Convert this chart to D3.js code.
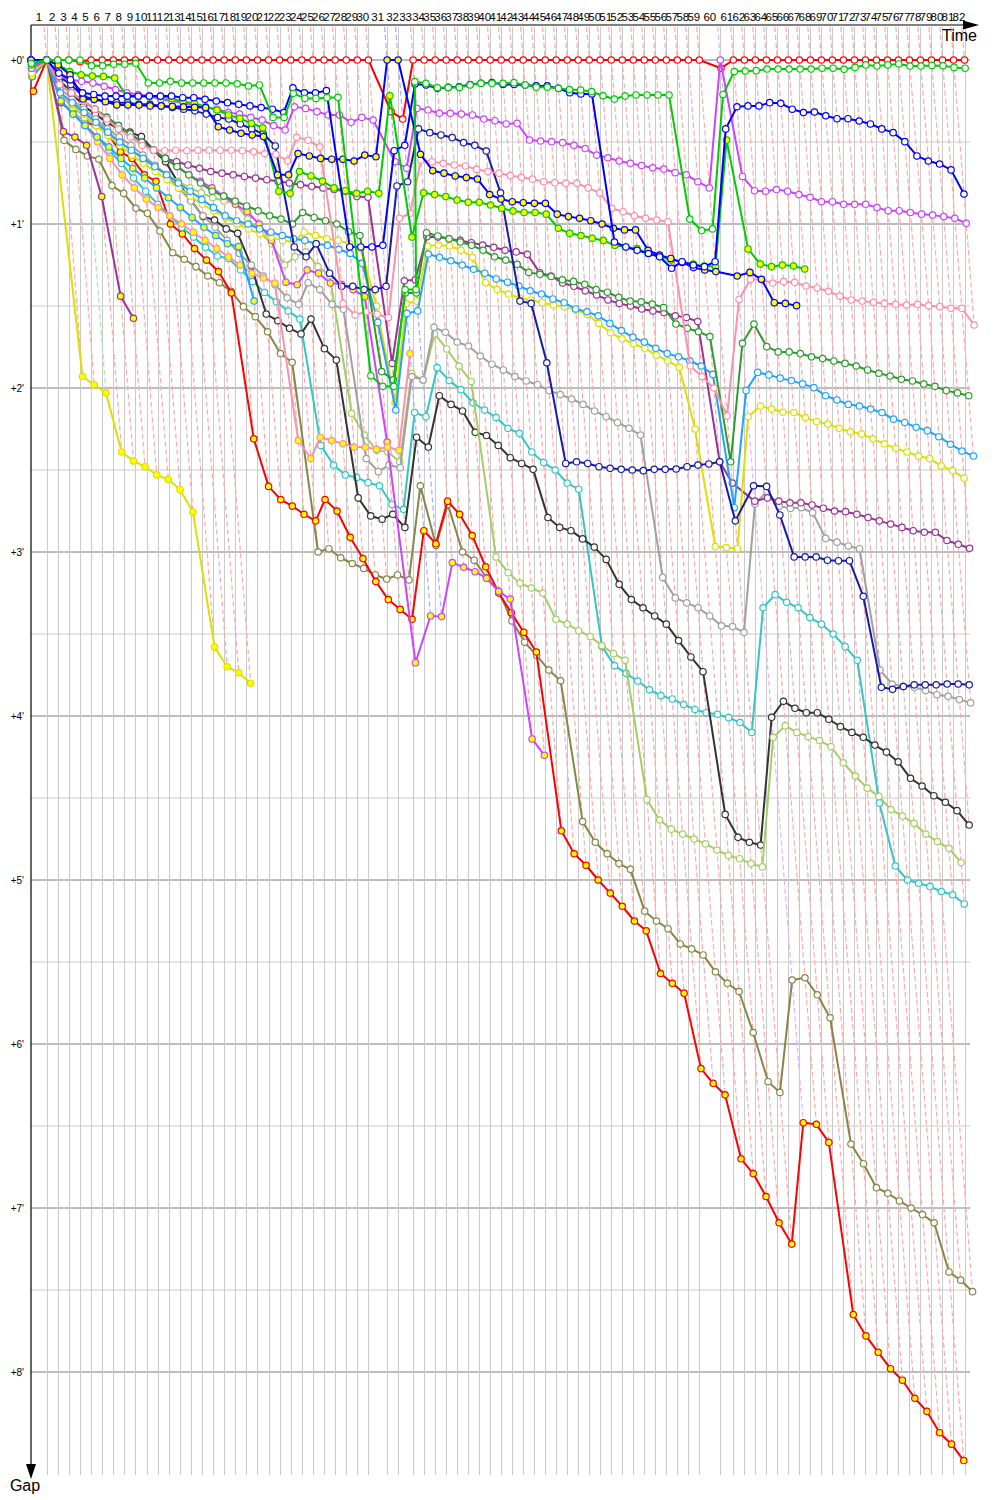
<!DOCTYPE html>
<html>
<head>
<meta charset="utf-8">
<script src="https://cdn.jsdelivr.net/npm/d3@7"></script>
<style>
  body { margin: 0; background: #fff; }
  svg { display: block; font-family: "Liberation Sans", Arial, sans-serif; }
</style>
</head>
<body>
<svg id="chart" width="1000" height="1500"></svg>
<script>
// leader lap durations in seconds, lap 1 .. 82
const leaderLapSecs = [
  73.6,
  52, 52, 52, 52, 52, 52, 52, 52, 52, 52, 52, 52, 52, 52, 52, 52, 52, 52, 52, 52,
  52, 52, 52, 52, 52, 52, 52, 52, 52,
  87.7, 51.6, 70.3,
  51.6, 51.6, 51.6, 51.6, 51.6, 51.6, 51.6, 51.6, 51.6, 51.6, 51.6, 51.6, 51.6,
  51.6, 51.6, 51.6, 51.6, 51.6, 51.6, 51.6, 51.6, 51.6, 51.6, 51.6, 51.6, 51.6,
  98.4, 61.0,
  51.6, 51.6, 51.6, 51.6, 51.6, 51.6, 51.6, 51.6, 51.6, 51.6, 51.6, 51.6, 51.6,
  51.6, 51.6, 51.6, 51.6, 51.6, 51.6, 51.6, 51.6
];

// gap to the leader in minutes, index = lap (0 = grid)
const redA = [
  0, 0, 0, 0, 0.01, 0, 0, 0, 0, 0,
  0, 0, 0, 0, 0, 0, 0, 0, 0, 0,
  0, 0, 0, 0, 0, 0, 0, 0, 0, 0,
  0, 0.315, 0.36, 0, 0, 0, 0, 0, 0, 0,
  0, 0, 0, 0, 0, 0, 0, 0, 0, 0,
  0, 0, 0, 0, 0, 0, 0, 0, 0, 0,
  0.05, 0, 0, 0, 0, 0, 0, 0, 0, 0,
  0, 0, 0, 0, 0, 0, 0, 0, 0, 0,
  0, 0, 0
];
const redB = [
  0.19, 0, 0.26, 0.32, 0.38, 0.40, 0.45, 0.56, 0.60, 0.70,
  0.74, 1.00, 1.06, 1.15, 1.22, 1.29, 1.42, 2.31, 2.60, 2.68,
  2.72, 2.77, 2.81, 2.68, 2.75, 2.91, 3.04, 3.18, 3.29, 3.35,
  3.41, 2.87, 2.95, 2.69, 2.77, 2.90, 3.09, 3.25, 3.37, 3.49,
  3.61, 4.70, 4.84, 4.91, 5.00, 5.08, 5.16, 5.25, 5.31, 5.57,
  5.63, 5.69, 6.15, 6.24, 6.31, 6.70, 6.79, 6.93, 7.09, 7.22,
  6.48, 6.49, 6.60, 7.65, 7.78, 7.88, 7.98, 8.05, 8.16, 8.24,
  8.37, 8.44, 8.54
];
const greenA = [
  0.02, 0, 0, 0, 0, 0.035, 0.035, 0.026, 0.026, 0.02,
  0.14, 0.14, 0.13, 0.14, 0.14, 0.14, 0.14, 0.14, 0.145, 0.159,
  0.152, 0.35, 0.35, 0.203, 0.234, 0.234, 0.23, 0.227, 1.925, 1.99,
  1.99, 1.40, 1.40, 0.132, 0.142, 0.169, 0.167, 0.167, 0.152, 0.142,
  0.142, 0.142, 0.138, 0.152, 0.166, 0.166, 0.173, 0.18, 0.183, 0.193,
  0.218, 0.238, 0.22, 0.213, 0.213, 0.213, 0.213, 0.97, 1.04, 1.03,
  0.21, 0.07, 0.067, 0.065, 0.055, 0.055, 0.055, 0.055, 0.055, 0.05,
  0.05, 0.057, 0.045, 0.03, 0.037, 0.03, 0.024, 0.037, 0.037, 0.033,
  0.035, 0.045, 0.05
];
const greenB = [
  0.03, 0, 0.03, 0.07, 0.09, 0.098, 0.10, 0.11, 0.224, 0.224,
  0.224, 0.224, 0.235, 0.254, 0.264, 0.285, 0.305, 0.335, 0.356, 0.386,
  0.413, 0.80, 0.813, 0.68, 0.707, 0.738, 0.78, 0.797, 0.813, 0.80,
  0.813, 0.218, 1.08, 0.81, 0.82, 0.833, 0.854, 0.868, 0.868, 0.884,
  0.904, 0.92, 0.93, 0.93, 0.94, 1.026, 1.057, 1.07, 1.087, 1.10,
  1.13, 1.14, 1.15, 1.18, 1.20, 1.22, 1.23, 1.244, 1.256, 1.26,
  0.488, 1.152, 1.244, 1.26, 1.25, 1.256, 1.274
];
const blueA = [
  0, 0, 0.08, 0.12, 0.2, 0.21, 0.22, 0.22, 0.22, 0.22,
  0.22, 0.22, 0.22, 0.23, 0.23, 0.24, 0.25, 0.26, 0.27, 0.28,
  0.29, 0.3, 0.32, 0.17, 0.2, 0.2, 0.187, 1.14, 1.14, 1.14,
  1.13, 0.553, 0.52, 0.146, 0.152, 0.173, 0.167, 0.163, 0.149, 0.142,
  0.138, 0.149, 0.149, 0.152, 0.158, 0.158, 0.173, 0.2, 0.207, 0.207,
  1.11, 1.14, 1.16, 1.18, 1.20, 1.27, 1.23, 1.25, 1.26, 1.23,
  0.42, 0.285, 0.28, 0.28, 0.26, 0.264, 0.30, 0.32, 0.317, 0.34,
  0.358, 0.358, 0.372, 0.39, 0.42, 0.443, 0.498, 0.585, 0.616, 0.634,
  0.67, 0.817
];
const blueB = [
  0, 0, 0.03, 0.09, 0.238, 0.24, 0.254, 0.274, 0.275, 0.275,
  0.28, 0.28, 0.283, 0.285, 0.288, 0.29, 0.407, 0.427, 0.447, 0.457,
  0.467, 0.70, 0.70, 0.57, 0.585, 0.60, 0.605, 0.605, 0.616, 0.58,
  0.59, 0, 0, 0.575, 0.675, 0.69, 0.707, 0.717, 0.726, 0.82,
  0.848, 0.864, 0.87, 0.874, 0.874, 0.94, 0.955, 0.965, 0.98, 1.0,
  1.026, 1.036, 1.036, 1.16, 1.19, 1.21, 1.234, 1.266, 1.28, 1.29,
  1.317, 1.295, 1.337, 1.48, 1.484, 1.498
];
const navyA = [
  0, 0, 0.1, 0.15, 0.22, 0.24, 0.25, 0.26, 0.26, 0.27,
  0.27, 0.28, 0.29, 0.30, 0.31, 0.33, 0.35, 0.36, 0.39, 0.42,
  0.45, 0.524, 1.14, 1.20, 1.12, 1.30, 1.38, 1.38, 1.40, 1.40,
  1.38, 0.768, 0.742, 0.42, 0.443, 0.457, 0.473, 0.504, 0.52, 0.555,
  0.81, 1.47, 1.484, 1.846, 2.46, 2.45, 2.46, 2.48, 2.49, 2.496,
  2.50, 2.504, 2.496, 2.496, 2.494, 2.48, 2.47, 2.463, 2.45, 2.81,
  2.596, 2.60, 2.774, 3.03, 3.03, 3.03, 3.05, 3.053, 3.053, 3.27,
  3.825, 3.837, 3.82, 3.81, 3.81, 3.81, 3.805, 3.805, 3.81
];
const violetA = [
  0.05, 0, 0.1, 0.12, 0.13, 0.14, 0.16, 0.18, 0.2, 0.21,
  0.22, 0.24, 0.25, 0.26, 0.28, 0.29, 0.3, 0.32, 0.33, 0.35,
  0.366, 0.40, 0.427, 0.285, 0.295, 0.315, 0.335, 0.335, 0.38, 0.35,
  0.366, 0.62, 0.66, 0.295, 0.305, 0.325, 0.325, 0.33, 0.335, 0.36,
  0.37, 0.39, 0.386, 0.488, 0.494, 0.498, 0.504, 0.52, 0.54, 0.58,
  0.596, 0.616, 0.63, 0.644, 0.657, 0.665, 0.687, 0.70, 0.742, 0.78,
  0, 0.71, 0.797, 0.80, 0.79, 0.80, 0.82, 0.837, 0.864, 0.864,
  0.88, 0.88, 0.88, 0.90, 0.919, 0.919, 0.93, 0.94, 0.945, 0.955,
  0.965, 0.996
];
const violetB = [
  0.05, 0, 0.15, 0.2, 0.25, 0.3, 0.35, 0.4, 0.45, 0.5,
  0.55, 0.6, 0.65, 0.7, 0.74, 0.78, 0.83, 0.88, 0.925, 1.0,
  1.1, 1.355, 1.37, 1.28, 1.30, 1.36, 1.368, 1.40, 1.443, 2.33,
  3.675, 3.39, 3.394, 3.065, 3.093, 3.12, 3.16, 3.24, 3.287, 4.14,
  4.24
];
const pinkA = [
  0.05, 0, 0.15, 0.2, 0.25, 0.3, 0.36, 0.42, 0.47, 0.52,
  0.55, 0.553, 0.55, 0.553, 0.55, 0.55, 0.55, 0.55, 0.553, 0.56,
  0.57, 0.575, 0.615, 0.471, 0.49, 0.53, 1.484, 1.555, 1.535, 1.55,
  1.57, 0.965, 0.935, 0.61, 0.62, 0.63, 0.64, 0.646, 0.667, 0.68,
  0.69, 0.705, 0.715, 0.726, 0.742, 0.748, 0.752, 0.752, 0.78, 0.81,
  0.904, 0.925, 0.95, 0.965, 0.976, 0.986, 1.866, 1.93, 2.0, 2.17,
  1.46, 1.337, 1.34, 1.36, 1.35, 1.356, 1.378, 1.39, 1.41, 1.44,
  1.463, 1.47, 1.477, 1.484, 1.49, 1.494, 1.49, 1.498, 1.504, 1.514,
  1.514, 1.616
];
const pinkB = [
  0.1, 0, 0.2, 0.3, 0.4, 0.5, 0.6, 0.7, 0.78, 0.848,
  0.9, 0.95, 1.0, 1.05, 1.1, 1.15, 1.2, 1.25, 1.30, 1.33,
  1.36, 2.32, 2.43, 2.30, 2.32, 2.34, 2.36, 2.36, 2.374, 2.36,
  2.38, 1.79
];
const dkgreenA = [
  0.05, 0, 0.15, 0.2, 0.25, 0.3, 0.35, 0.4, 0.45, 0.5,
  0.55, 0.6, 0.65, 0.7, 0.75, 0.8, 0.83, 0.86, 0.89, 0.92,
  0.95, 0.97, 1.0, 0.93, 0.96, 0.98, 1.0, 1.047, 1.07, 1.9,
  1.95, 1.42, 1.42, 1.053, 1.073, 1.09, 1.11, 1.13, 1.16, 1.2,
  1.22, 1.246, 1.295, 1.307, 1.32, 1.34, 1.35, 1.368, 1.40, 1.416,
  1.447, 1.47, 1.474, 1.488, 1.51, 1.61, 1.636, 1.657, 1.687, 2.45,
  1.727, 1.61, 1.748, 1.78, 1.78, 1.79, 1.81, 1.82, 1.835, 1.85,
  1.866, 1.89, 1.91, 1.927, 1.947, 1.957, 1.976, 1.99, 2.016, 2.03,
  2.047
];
const purpleA = [
  0.05, 0, 0.15, 0.2, 0.25, 0.3, 0.35, 0.4, 0.45, 0.5,
  0.55, 0.6, 0.62, 0.64, 0.66, 0.68, 0.69, 0.7, 0.71, 0.72,
  0.73, 0.74, 0.75, 0.76, 0.77, 0.78, 0.79, 0.8, 0.833, 0.837,
  1.85, 1.346, 1.34, 1.077, 1.08, 1.09, 1.10, 1.114, 1.128, 1.142,
  1.16, 1.17, 1.185, 1.297, 1.317, 1.36, 1.38, 1.407, 1.433, 1.463,
  1.484, 1.50, 1.518, 1.53, 1.54, 1.56, 1.57, 1.595, 2.45, 2.58,
  2.69, 2.67, 2.69, 2.70, 2.70, 2.713, 2.733, 2.75, 2.754, 2.77,
  2.79, 2.81, 2.83, 2.85, 2.87, 2.88, 2.88, 2.93, 2.953, 2.977
];
const purpleB = [0.05, 0, 0.437, 0.47, 0.52, 0.833, 1.44, 1.575];
const lightblueA = [
  0.05, 0, 0.2, 0.26, 0.32, 0.38, 0.44, 0.5, 0.55, 0.6,
  0.65, 0.7, 0.75, 0.8, 0.85, 0.9, 0.95, 0.98, 1.0, 1.03,
  1.05, 1.07, 1.09, 1.1, 1.12, 1.13, 1.154, 1.18, 1.24, 1.6,
  2.134, 1.545, 1.53, 1.183, 1.203, 1.224, 1.25, 1.276, 1.30, 1.335,
  1.355, 1.378, 1.407, 1.427, 1.457, 1.48, 1.518, 1.535, 1.56, 1.606,
  1.65, 1.69, 1.72, 1.758, 1.79, 1.81, 1.834, 1.866, 1.917, 2.73,
  2.016, 1.905, 1.92, 1.94, 1.955, 1.975, 1.998, 2.047, 2.073, 2.10,
  2.11, 2.128, 2.15, 2.19, 2.21, 2.24, 2.26, 2.297, 2.343, 2.384,
  2.415
];
const lightblueB = [
  0.1, 0, 0.25, 0.33, 0.4, 0.47, 0.53, 0.6, 0.66, 0.72,
  0.78, 0.84, 0.9, 0.96, 1.02, 1.07, 1.12, 1.138, 1.47
];
const yellowA = [
  0.08, 0, 0.2, 0.27, 0.33, 0.4, 0.46, 0.52, 0.58, 0.63,
  0.68, 0.73, 0.78, 0.83, 0.88, 0.92, 0.96, 1.0, 1.03, 1.06,
  1.08, 1.1, 1.11, 1.05, 1.07, 1.09, 1.1, 1.12, 1.15, 1.5,
  2.09, 1.484, 1.47, 1.134, 1.128, 1.134, 1.16, 1.203, 1.358, 1.40,
  1.427, 1.453, 1.463, 1.48, 1.494, 1.504, 1.524, 1.55, 1.606, 1.663,
  1.70, 1.73, 1.758, 1.80, 1.834, 1.874, 2.25, 2.967, 2.973, 2.98,
  2.175, 2.11, 2.128, 2.148, 2.15, 2.18, 2.205, 2.22, 2.246, 2.267,
  2.28, 2.31, 2.34, 2.368, 2.39, 2.415, 2.43, 2.475, 2.504, 2.55
];
const yellowB = [0.1, 0, 1.93, 1.98, 2.03, 2.39, 2.445, 2.48, 2.53, 2.557, 2.62, 2.756, 3.58, 3.70, 3.736, 3.80];
const grayA = [
  0.1, 0, 0.17, 0.24, 0.3, 0.36, 0.42, 0.47, 0.52, 0.58,
  0.64, 0.7, 0.78, 0.86, 0.95, 1.02, 1.1, 1.18, 1.25, 1.317,
  1.37, 1.45, 1.49, 1.358, 1.40, 1.49, 1.52, 2.43, 2.51, 2.47,
  2.486, 1.93, 1.95, 1.63, 1.66, 1.72, 1.744, 1.805, 1.855, 1.89,
  1.93, 1.957, 1.98, 2.016, 2.04, 2.067, 2.10, 2.14, 2.175, 2.21,
  2.246, 2.287, 3.155, 3.28, 3.31, 3.34, 3.39, 3.45, 3.455, 3.49,
  2.707, 2.63, 2.72, 2.734, 2.73, 2.76, 2.917, 2.94, 2.963, 2.98,
  3.72, 3.805, 3.82, 3.825, 3.845, 3.87, 3.88, 3.90, 3.92
];
const blackA = [
  0.05, 0, 0.12, 0.2, 0.28, 0.33, 0.38, 0.42, 0.44, 0.467,
  0.55, 0.62, 0.75, 0.854, 0.955, 0.976, 1.03, 1.057, 1.256, 1.549,
  1.59, 1.636, 1.67, 1.58, 1.76, 1.83, 2.67, 2.78, 2.80, 2.77,
  2.85, 2.30, 2.36, 2.047, 2.10, 2.14, 2.27, 2.29, 2.35, 2.425,
  2.46, 2.496, 2.79, 2.85, 2.87, 2.92, 2.97, 3.045, 3.197, 3.29,
  3.34, 3.39, 3.44, 3.54, 3.64, 3.73, 4.6, 4.74, 4.77, 4.787,
  4.008, 3.91, 3.953, 3.98, 3.98, 4.02, 4.065, 4.10, 4.13, 4.177,
  4.22, 4.28, 4.38, 4.427, 4.486, 4.526, 4.577, 4.665
];
const tealA = [
  0.08, 0, 0.25, 0.33, 0.4, 0.47, 0.55, 0.63, 0.72, 0.8,
  0.88, 0.95, 1.02, 1.08, 1.142, 1.195, 1.21, 1.28, 1.35, 1.417,
  1.474, 1.53, 1.58, 2.35, 2.47, 2.53, 2.545, 2.577, 2.596, 2.71,
  2.74, 2.15, 2.175, 1.876, 1.955, 2.01, 2.09, 2.134, 2.18, 2.246,
  2.276, 2.39, 2.455, 2.50, 2.58, 2.617, 3.577, 3.693, 3.74, 3.787,
  3.84, 3.876, 3.896, 3.93, 3.96, 3.98, 3.99, 4.01, 4.04, 4.10,
  3.34, 3.26, 3.307, 3.34, 3.40, 3.44, 3.50, 3.577, 3.66, 4.53,
  4.915, 5.0, 5.02, 5.04, 5.07, 5.09, 5.146
];
const ygreenA = [
  0.1, 0, 0.2, 0.28, 0.35, 0.4, 0.45, 0.5, 0.55, 0.6,
  0.65, 0.7, 0.74, 0.78, 0.81, 0.84, 0.86, 0.874, 0.97, 1.05,
  1.12, 1.25, 1.2, 1.17, 1.26, 1.315, 2.154, 2.287, 2.38, 2.39,
  2.45, 1.91, 1.955, 1.67, 1.762, 1.866, 1.96, 3.03, 3.126, 3.19,
  3.22, 3.25, 3.41, 3.44, 3.48, 3.516, 3.57, 3.62, 3.66, 4.51,
  4.634, 4.69, 4.72, 4.75, 4.78, 4.817, 4.85, 4.87, 4.90, 4.92,
  4.13, 4.06, 4.10, 4.126, 4.15, 4.187, 4.285, 4.366, 4.44, 4.49,
  4.57, 4.61, 4.654, 4.72, 4.766, 4.807, 4.894
];
const oliveA = [
  0.1, 0, 0.49, 0.545, 0.585, 0.605, 0.766, 0.813, 0.904, 0.935,
  1.043, 1.175, 1.215, 1.26, 1.317, 1.358, 1.41, 1.504, 1.565, 1.657,
  1.79, 1.843, 3.0, 2.98, 3.035, 3.07, 3.10, 3.14, 3.165, 3.14,
  3.17, 2.596, 2.96, 2.71, 3.0, 3.05, 3.157, 3.24, 3.42, 3.55,
  3.63, 3.72, 3.785, 4.644, 4.77, 4.84, 4.90, 4.935, 5.19, 5.25,
  5.297, 5.39, 5.42, 5.457, 5.56, 5.63, 5.68, 5.93, 6.23, 6.295,
  5.61, 5.596, 5.70, 5.84, 6.61, 6.73, 6.876, 6.91, 6.957, 7.0,
  7.04, 7.09, 7.39, 7.44, 7.51
];

const yTicks = [0, 1, 2, 3, 4, 5, 6, 7, 8];

const series = [
  { gaps: redA, color: "#ff0000", light: "#ffa8a8", fill: "#ffffff" },
  { gaps: oliveA, color: "#868648", fill: "#ffffff" },
  { gaps: redB, color: "#ff0000", fill: "#ffff00" },
  { gaps: yellowB, color: "#dede00", fill: "#ffff00" },
  { gaps: purpleB, color: "#993399", fill: "#ffff00" },
  { gaps: tealA, color: "#33c6c6", fill: "#ffffff" },
  { gaps: blackA, color: "#333333", fill: "#ffffff" },
  { gaps: ygreenA, color: "#a6cc66", fill: "#ffffff" },
  { gaps: grayA, color: "#a0a0a0", fill: "#ffffff" },
  { gaps: violetB, color: "#cc44ff", fill: "#ffff00" },
  { gaps: pinkB, color: "#ff8fab", fill: "#ffff00" },
  { gaps: lightblueB, color: "#1fa3ff", fill: "#ffff00" },
  { gaps: purpleA, color: "#993399", fill: "#ffffff" },
  { gaps: yellowA, color: "#dede00", fill: "#ffffff" },
  { gaps: lightblueA, color: "#1fa3ff", fill: "#ffffff" },
  { gaps: dkgreenA, color: "#2e9b2e", fill: "#ffffff" },
  { gaps: navyA, color: "#1a1aa6", fill: "#ffffff" },
  { gaps: pinkA, color: "#ff8fab", fill: "#ffffff" },
  { gaps: violetA, color: "#cc44ff", light: "#e6b0ff", fill: "#ffffff" },
  { gaps: greenB, color: "#00cc00", fill: "#ffff00" },
  { gaps: blueB, color: "#0000ff", light: "#aaaaff", fill: "#ffff00" },
  { gaps: blueA, color: "#0000ff", fill: "#ffffff" },
  { gaps: greenA, color: "#00cc00", light: "#aae4aa", fill: "#ffffff" }
];

// cumulative leader time (minutes) at the end of each lap
const lapTime = [0];
leaderLapSecs.forEach(s => lapTime.push(lapTime[lapTime.length - 1] + s / 60));
const nLaps = leaderLapSecs.length;

const svg = d3.select("#chart");
const x = d3.scaleLinear().domain([0, 75]).range([31, 31 + 75 * 12.8]);
const y = d3.scaleLinear().domain([0, 8]).range([60, 1372]);
const gTop = y.invert(27);

// horizontal grid, half minutes light, full minutes dark
const halfs = d3.range(0, 17).map(d => d / 2);
svg.append("g").selectAll("line").data(halfs).join("line")
  .attr("x1", 31).attr("x2", 970)
  .attr("y1", d => y(d)).attr("y2", d => y(d))
  .attr("stroke", d => d % 1 === 0 ? "#7a7a7a" : "#cccccc")
  .attr("stroke-width", 1);

// lap verticals
const laps = d3.range(1, nLaps + 1);
svg.append("g").selectAll("line").data(laps).join("line")
  .attr("x1", d => Math.round(x(lapTime[d])) + 0.5).attr("x2", d => Math.round(x(lapTime[d])) + 0.5)
  .attr("y1", 27).attr("y2", 1475)
  .attr("stroke", "#cacaca").attr("stroke-width", 1);

// per lap: leader and slowest car, for the lap-completion lines
const lapInfo = laps.map(k => {
  let best = null, maxG = 0;
  series.forEach(s => {
    const g = s.gaps[k];
    if (g == null) return;
    if (best == null || g < best.gaps[k]) best = s;
    if (g > maxG) maxG = g;
  });
  return { k, maxG, light: (best && best.light) || "#ffa8a8" };
});

svg.append("g").selectAll("line").data(lapInfo).join("line")
  .attr("x1", d => x(lapTime[d.k] + gTop)).attr("y1", y(gTop))
  .attr("x2", d => x(lapTime[d.k] + d.maxG)).attr("y2", d => y(d.maxG))
  .attr("stroke", d => d.light).attr("stroke-width", 1.2)
  .attr("stroke-dasharray", "5,3");

// axes
svg.append("line").attr("x1", 31).attr("x2", 31).attr("y1", 25).attr("y2", 1468)
  .attr("stroke", "#000").attr("stroke-width", 1.2);
svg.append("path").attr("d", "M26,1464 L36,1464 L31,1479 Z").attr("fill", "#000");
svg.append("line").attr("x1", 31).attr("x2", 966).attr("y1", 25).attr("y2", 25)
  .attr("stroke", "#000").attr("stroke-width", 1.2);
svg.append("path").attr("d", "M963,20.5 L963,29.5 L979,25 Z").attr("fill", "#000");

svg.append("text").attr("x", 977).attr("y", 41).attr("text-anchor", "end")
  .attr("font-size", 16).text("Time");
svg.append("text").attr("x", 25).attr("y", 1491).attr("text-anchor", "middle")
  .attr("font-size", 16).text("Gap");

// lap numbers centred on each lap
svg.append("g").selectAll("text").data(laps).join("text")
  .attr("x", d => (x(lapTime[d - 1]) + x(lapTime[d])) / 2)
  .attr("y", 21).attr("text-anchor", "middle").attr("font-size", 11.5)
  .text(d => d);

svg.append("g").selectAll("text").data(yTicks).join("text")
  .attr("x", 24).attr("y", d => y(d) + 3.5).attr("text-anchor", "end")
  .attr("font-size", 10).text(d => "+" + d + "'");

// drivers
const line = d3.line().x(d => x(d.t)).y(d => y(d.g));
series.forEach(s => {
  const pts = s.gaps.map((g, i) => ({ t: lapTime[i] + g, g }));
  const g = svg.append("g");
  g.append("path").attr("d", line(pts)).attr("fill", "none")
    .attr("stroke", s.color).attr("stroke-width", 2).attr("stroke-linejoin", "round");
  g.selectAll("circle").data(pts).join("circle")
    .attr("cx", d => x(d.t)).attr("cy", d => y(d.g)).attr("r", 3.2)
    .attr("fill", s.fill).attr("stroke", s.color).attr("stroke-width", 1.2);
});
</script>
</body>
</html>
